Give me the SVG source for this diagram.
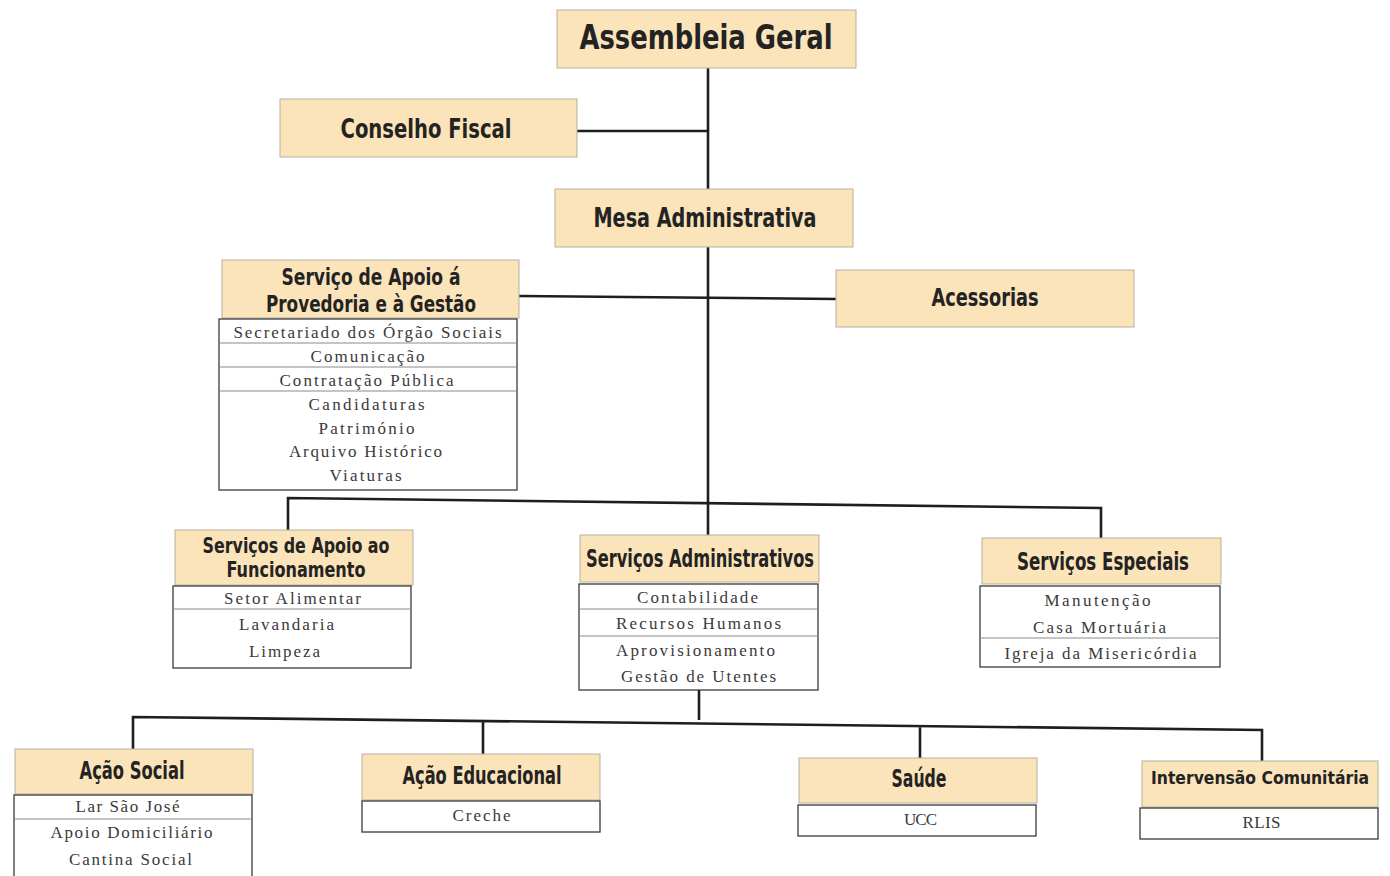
<svg xmlns="http://www.w3.org/2000/svg" width="1390" height="876" viewBox="0 0 1390 876">
<style>
.hd{fill:#fbe3ba;stroke:#b9b0a0;stroke-width:1}
.ls{fill:#fff;stroke:#3a3a3a;stroke-width:1.3}
.sp{stroke:#8a8a8a;stroke-width:1}
.t{font-family:"DejaVu Sans Condensed","Liberation Sans Narrow","DejaVu Sans",sans-serif;font-weight:bold;fill:#232323;text-anchor:middle}
.b{font-family:"Liberation Serif","DejaVu Serif",serif;font-size:17px;fill:#3a3a3a;text-anchor:middle;letter-spacing:1px}
.c{stroke:#1e1e1e;stroke-width:2.6;fill:none}
</style>
<rect width="1390" height="876" fill="#fff"/>
<g id="connectors">
<path class="c" d="M708 68V190M708 247V535"/>
<path class="c" d="M577 131H708"/>
<path class="c" d="M519 296L836 299"/>
<path class="c" d="M288 530V498L1101 508V538"/>
<path class="c" d="M699 690V720"/>
<path class="c" d="M133 750V717L1262 730V761M483 722V755M920 726V758"/>
</g>
<g id="assembleia">
<rect class="hd" x="557" y="10" width="299" height="58"/>
<text class="t" x="706" y="49" font-size="34" textLength="253" lengthAdjust="spacingAndGlyphs">Assembleia Geral</text>
</g>
<g id="conselho">
<rect class="hd" x="280" y="99" width="297" height="58"/>
<text class="t" x="426" y="138" font-size="27" textLength="171" lengthAdjust="spacingAndGlyphs">Conselho Fiscal</text>
</g>
<g id="mesa">
<rect class="hd" x="555" y="189" width="298" height="58"/>
<text class="t" x="705" y="227" font-size="27" textLength="223" lengthAdjust="spacingAndGlyphs">Mesa Administrativa</text>
</g>
<g id="apoio-provedoria">
<rect class="hd" x="222" y="260" width="297" height="58"/>
<text class="t" x="371" y="285" font-size="23" textLength="179" lengthAdjust="spacingAndGlyphs">Serviço de Apoio á</text>
<text class="t" x="371" y="312" font-size="23" textLength="210" lengthAdjust="spacingAndGlyphs">Provedoria e à Gestão</text>
<rect class="ls" x="219" y="319" width="298" height="171"/>
<path class="sp" d="M219 343H517M219 367H517M219 391H517"/>
<text class="b" x="368" y="338" textLength="269">Secretariado dos Órgão Sociais</text>
<text class="b" x="368" y="362" textLength="115">Comunicação</text>
<text class="b" x="367" y="386" textLength="175">Contratação Pública</text>
<text class="b" x="367" y="410" textLength="117">Candidaturas</text>
<text class="b" x="367" y="434" textLength="97">Património</text>
<text class="b" x="366" y="457" textLength="154">Arquivo Histórico</text>
<text class="b" x="366" y="481" textLength="73">Viaturas</text>
</g>
<g id="acessorias">
<rect class="hd" x="836" y="270" width="298" height="57"/>
<text class="t" x="985" y="306" font-size="24" textLength="107" lengthAdjust="spacingAndGlyphs">Acessorias</text>
</g>
<g id="apoio-funcionamento">
<rect class="hd" x="175" y="530" width="238" height="55"/>
<text class="t" x="296" y="553" font-size="21" textLength="187" lengthAdjust="spacingAndGlyphs">Serviços de Apoio ao</text>
<text class="t" x="296" y="577" font-size="21" textLength="139" lengthAdjust="spacingAndGlyphs">Funcionamento</text>
<rect class="ls" x="173" y="586" width="238" height="82"/>
<path class="sp" d="M173 609H411"/>
<text class="b" x="293" y="604" textLength="138">Setor Alimentar</text>
<text class="b" x="287" y="630" textLength="96">Lavandaria</text>
<text class="b" x="285" y="657" textLength="72">Limpeza</text>
</g>
<g id="administrativos">
<rect class="hd" x="580" y="535" width="239" height="47"/>
<text class="t" x="700" y="567" font-size="24" textLength="228" lengthAdjust="spacingAndGlyphs">Serviços Administrativos</text>
<rect class="ls" x="579" y="584" width="239" height="106"/>
<path class="sp" d="M579 609H818M579 636H818"/>
<text class="b" x="698" y="603" textLength="122">Contabilidade</text>
<text class="b" x="699" y="629" textLength="166">Recursos Humanos</text>
<text class="b" x="696" y="656" textLength="160">Aprovisionamento</text>
<text class="b" x="699" y="682" textLength="156">Gestão de Utentes</text>
</g>
<g id="especiais">
<rect class="hd" x="982" y="538" width="239" height="46"/>
<text class="t" x="1103" y="570" font-size="24" textLength="172" lengthAdjust="spacingAndGlyphs">Serviços Especiais</text>
<rect class="ls" x="980" y="586" width="240" height="81"/>
<path class="sp" d="M980 638H1220"/>
<text class="b" x="1098" y="606" textLength="107">Manutenção</text>
<text class="b" x="1100" y="633" textLength="134">Casa Mortuária</text>
<text class="b" x="1101" y="659" textLength="193">Igreja da Misericórdia</text>
</g>
<g id="acao-social">
<rect class="hd" x="15" y="749" width="238" height="45"/>
<text class="t" x="132" y="779" font-size="24" textLength="105" lengthAdjust="spacingAndGlyphs">Ação Social</text>
<rect class="ls" x="14" y="795" width="238" height="90"/>
<path class="sp" d="M14 819H252"/>
<text class="b" x="128" y="812" textLength="105">Lar São José</text>
<text class="b" x="132" y="838" textLength="163">Apoio Domiciliário</text>
<text class="b" x="131" y="865" textLength="124">Cantina Social</text>
</g>
<g id="acao-educacional">
<rect class="hd" x="362" y="754" width="238" height="46"/>
<text class="t" x="482" y="784" font-size="24" textLength="159" lengthAdjust="spacingAndGlyphs">Ação Educacional</text>
<rect class="ls" x="362" y="801" width="238" height="31"/>
<text class="b" x="482" y="821" textLength="59">Creche</text>
</g>
<g id="saude">
<rect class="hd" x="799" y="758" width="238" height="45"/>
<text class="t" x="919" y="787" font-size="24" textLength="55" lengthAdjust="spacingAndGlyphs">Saúde</text>
<rect class="ls" x="798" y="805" width="238" height="31"/>
<text class="b" x="921" y="825" textLength="34">UCC</text>
</g>
<g id="intervencao">
<rect class="hd" x="1142" y="761" width="236" height="46"/>
<text class="t" x="1260" y="784" font-size="18" textLength="218" lengthAdjust="spacingAndGlyphs">Intervensão Comunitária</text>
<rect class="ls" x="1140" y="808" width="238" height="31"/>
<text class="b" x="1262" y="828" textLength="39">RLIS</text>
</g>
</svg>
